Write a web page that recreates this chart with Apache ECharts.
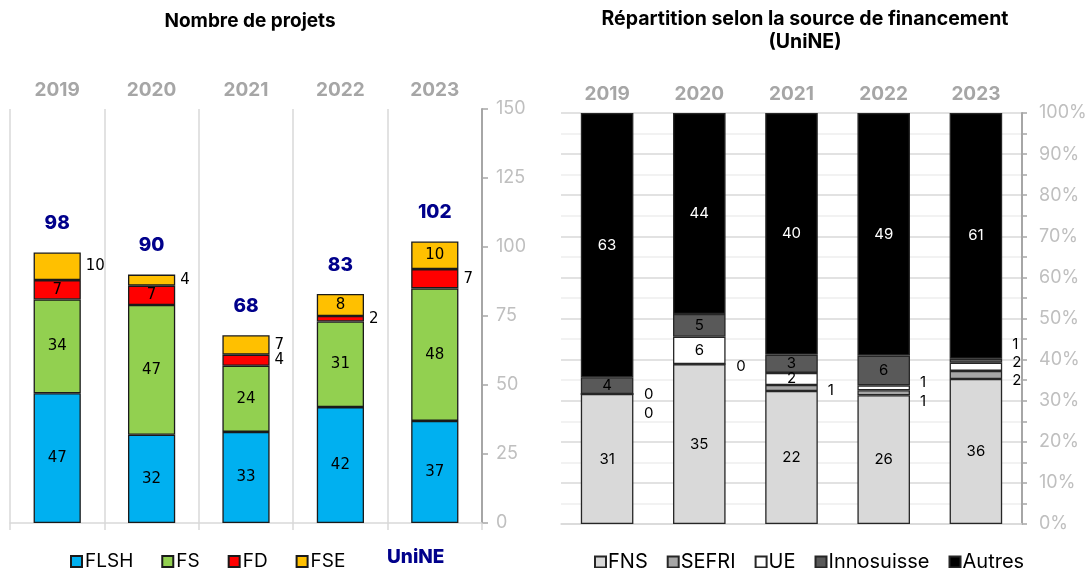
<!doctype html>
<html lang="fr">
<head>
<meta charset="utf-8">
<title>Projets UniNE</title>
<script src="https://cdn.jsdelivr.net/npm/echarts@6.0.0/dist/echarts.min.js"></script>
<style>
  html, body { margin: 0; height: 100%; background: #fff; }
  #chart { width: 1092px; height: 568px; }
</style>
</head>
<body>
<div id="chart"></div>
<script>
// données
const years = ['2019', '2020', '2021', '2022', '2023'];

// nombre de projets par faculté
const flsh = [47, 32, 33, 42, 37];
const fs = [34, 47, 24, 31, 48];
const fd = [7, 7, 4, 2, 7];
const fse = [10, 4, 7, 8, 10];

// source de financement (UniNE)
const fns = [31, 35, 22, 26, 36];
const sefri = [0, 0, 1, 1, 2];
const ue = [0, 6, 2, 1, 2];
const innosuisse = [4, 5, 3, 6, 1];
const autres = [63, 44, 40, 49, 61];

// étiquettes placées à droite de la barre (index d'année -> décalage vertical)
const outsideLeft = { FD: { 2: 0, 3: 0, 4: 0 }, FSE: { 0: 0, 1: 0, 2: 0 } };
const outsideRight = {
  SEFRI: { 0: 19, 1: 2, 2: 2, 3: 9, 4: 6 },
  UE: { 0: 0, 3: -5, 4: -4 },
  Innosuisse: { 4: -16 }
};

const totals = years.map((y, i) => flsh[i] + fs[i] + fd[i] + fse[i]);
const totalsRight = years.map((y, i) => fns[i] + sefri[i] + ue[i] + innosuisse[i] + autres[i]);

const thin = 'Inter, Lato, sans-serif';
const lightGrey = '#d9d9d9';

function leftSeries(name, values, color) {
  return {
    name: name, type: 'bar', stack: 'gauche', xAxisIndex: 0, yAxisIndex: 0,
    barWidth: '50%',
    itemStyle: { color: color, borderColor: '#1a1a1a', borderWidth: 1.3 },
    label: { show: true, position: 'inside', fontSize: 15, color: '#000', fontFamily: '"DejaVu Sans", sans-serif' },
    data: values.map((v, i) => {
      const o = outsideLeft[name] && outsideLeft[name][i];
      if (o === undefined) return v;
      return { value: v, label: { position: 'right', distance: 5, offset: [0, o] } };
    })
  };
}

function rightSeries(name, values, color, labelColor) {
  return {
    name: name, type: 'bar', stack: 'droite', xAxisIndex: 2, yAxisIndex: 1,
    barWidth: '57%',
    itemStyle: { color: color, borderColor: '#262626', borderWidth: 1.3 },
    label: {
      show: true, position: 'inside', fontSize: 15, color: labelColor, fontFamily: thin,
      formatter: p => p.data.count
    },
    data: values.map((v, i) => {
      const item = { value: v / totalsRight[i] * 100, count: v };
      const o = outsideRight[name] && outsideRight[name][i];
      if (o !== undefined) item.label = { position: 'right', distance: 10, color: '#000', offset: [0, o] };
      return item;
    })
  };
}

const chart = echarts.init(document.getElementById('chart'));
chart.setOption({
  animation: false,
  graphic: [
    { type: 'text', x: 250, y: 12, style: { text: 'Nombre de projets', textAlign: 'center', font: 'bold 19px Inter, sans-serif', fill: '#000' } },
    { type: 'text', x: 805, y: 9, style: { text: 'Répartition selon la source de financement', textAlign: 'center', font: 'bold 19.5px Inter, sans-serif', fill: '#000' } },
    { type: 'text', x: 805, y: 32, style: { text: '(UniNE)', textAlign: 'center', font: 'bold 19.5px Inter, sans-serif', fill: '#000' } },
    { type: 'text', x: 387, y: 548, style: { text: 'UniNE', font: '800 19px Inter, sans-serif', fill: '#00008b' } }
  ],
  grid: [
    { left: 10, right: 610, top: 109, bottom: 45 },
    { left: 561, right: 70, top: 113, bottom: 44 }
  ],
  legend: [
    {
      data: ['FLSH', 'FS', 'FD', 'FSE'], left: 65, top: 547, icon: 'rect',
      itemWidth: 11, itemHeight: 11, itemGap: 28,
      textStyle: { fontSize: 19, color: '#000', fontFamily: thin, padding: [0, 0, 0, -2] }
    },
    {
      data: ['FNS', 'SEFRI', 'UE', 'Innosuisse', 'Autres'], left: 589, top: 547, icon: 'rect',
      itemWidth: 11, itemHeight: 11, itemGap: 19,
      textStyle: { fontSize: 20, color: '#000', fontFamily: thin, padding: [0, 0, 0, -3] }
    }
  ],
  xAxis: [
    {
      type: 'category', gridIndex: 0, data: years, position: 'bottom',
      axisLine: { lineStyle: { color: lightGrey, width: 1.5 } },
      axisTick: { show: true, length: 7, lineStyle: { color: lightGrey, width: 1.5 } },
      axisLabel: { show: false },
      splitLine: { show: true, lineStyle: { color: lightGrey, width: 1.5 } }
    },
    {
      type: 'category', gridIndex: 0, data: years, position: 'top',
      axisLine: { show: false }, axisTick: { show: false },
      axisLabel: { margin: 9, fontSize: 19, fontWeight: 'bold', color: '#a6a6a6', fontFamily: 'Inter, sans-serif' }
    },
    {
      type: 'category', gridIndex: 1, data: years, position: 'bottom',
      axisLine: { lineStyle: { color: lightGrey, width: 1.5 } },
      axisTick: { show: false }, axisLabel: { show: false }
    },
    {
      type: 'category', gridIndex: 1, data: years, position: 'top',
      axisLine: { show: false }, axisTick: { show: false },
      axisLabel: { margin: 9, fontSize: 19, fontWeight: 'bold', color: '#a6a6a6', fontFamily: 'Inter, sans-serif' }
    }
  ],
  yAxis: [
    {
      type: 'value', gridIndex: 0, position: 'right', min: 0, max: 150, interval: 25,
      axisLine: { show: true, lineStyle: { color: '#a6a6a6', width: 2 } },
      axisTick: { show: true, length: 6, lineStyle: { color: '#a6a6a6', width: 1.5 } },
      axisLabel: { margin: 14, fontSize: 18, color: '#bfbfbf', fontFamily: thin },
      splitLine: { show: false }
    },
    {
      type: 'value', gridIndex: 1, position: 'right', min: 0, max: 100, interval: 5,
      axisLine: { show: true, lineStyle: { color: '#a6a6a6', width: 2 } },
      axisTick: { show: true, length: 5, lineStyle: { color: '#a6a6a6', width: 1.5 } },
      axisLabel: { margin: 17, fontSize: 18, color: '#bfbfbf', fontFamily: thin, formatter: v => (v % 10 === 0 ? v + '%' : '') },
      splitLine: { show: true, lineStyle: { color: ['#d9d9d9', '#eeeeee'], width: 1.5 } }
    }
  ],
  series: [
    leftSeries('FLSH', flsh, '#00b0f0'),
    leftSeries('FS', fs, '#92d050'),
    leftSeries('FD', fd, '#ff0000'),
    leftSeries('FSE', fse, '#ffc000'),
    {
      name: 'UniNE', type: 'scatter', xAxisIndex: 0, yAxisIndex: 0,
      symbolSize: 1, itemStyle: { color: 'rgba(0,0,0,0)' },
      label: { show: true, position: 'top', distance: 19, fontSize: 19, fontWeight: 800, color: '#00008b', opacity: 1, fontFamily: 'Inter, sans-serif' },
      emphasis: { disabled: true },
      data: totals
    },
    rightSeries('FNS', fns, '#d9d9d9', '#000'),
    rightSeries('SEFRI', sefri, '#a6a6a6', '#000'),
    rightSeries('UE', ue, '#ffffff', '#000'),
    rightSeries('Innosuisse', innosuisse, '#595959', '#000'),
    rightSeries('Autres', autres, '#000000', '#fff')
  ]
});
</script>
</body>
</html>
